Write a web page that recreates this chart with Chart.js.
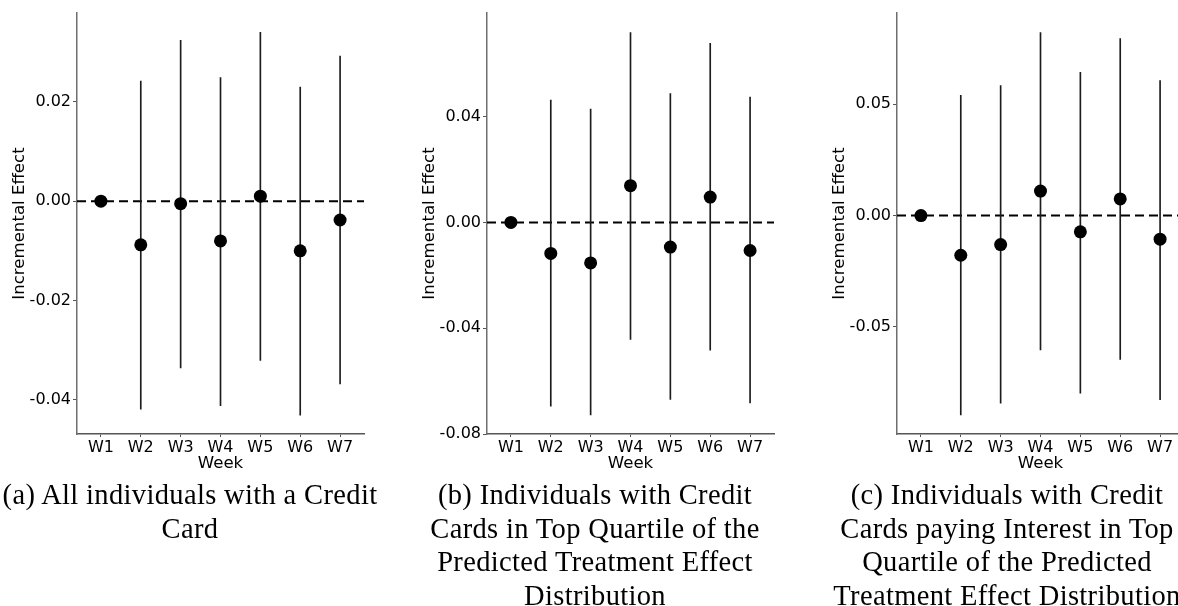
<!DOCTYPE html>
<html>
<head>
<meta charset="utf-8">
<script src="https://cdn.jsdelivr.net/npm/chart.js@4.4.1/dist/chart.umd.min.js"></script>
<style>
  html, body { margin: 0; padding: 0; background: #fff; width: 1178px; height: 606px; overflow: hidden; }
  .panel { position: absolute; top: 0; }
  .cap {
    position: absolute; top: 478px; width: 500px;
    font-family: "Liberation Serif", "DejaVu Serif", serif;
    font-size: 28.5px; line-height: 33.5px; letter-spacing: 0.35px; color: #000;
    text-align: center; white-space: nowrap;
  }
</style>
</head>
<body>
<canvas id="chartAll" class="panel" width="374" height="480" style="left:0px"></canvas>
<canvas id="chartTop" class="panel" width="374" height="480" style="left:410px"></canvas>
<canvas id="chartInterest" class="panel" width="374" height="480" style="left:820px"></canvas>

<div class="cap" style="left:-60px">(a) All individuals with a Credit<br>Card</div>
<div class="cap" style="left:345px">(b) Individuals with Credit<br>Cards in Top Quartile of the<br>Predicted Treatment Effect<br>Distribution</div>
<div class="cap" style="left:757px">(c) Individuals with Credit<br>Cards paying Interest in Top<br>Quartile of the Predicted<br>Treatment Effect Distribution</div>

<script>
// Weekly incremental effects with confidence intervals (W1 is the reference week)
const weeks = ['W1', 'W2', 'W3', 'W4', 'W5', 'W6', 'W7'];

// (a) All individuals with a credit card
const estAll  = [0, -0.0088, -0.0005, -0.0080, 0.0010, -0.0100, -0.0038];
const lowAll  = [null, -0.0419, -0.0336, -0.0412, -0.0321, -0.0431, -0.0368];
const highAll = [null, 0.0242, 0.0324, 0.0249, 0.0340, 0.0230, 0.0292];
const yTicksAll = [-0.04, -0.02, 0, 0.02];
const yRangeAll = [-0.0469, 0.0379];

// (b) Top quartile of the predicted treatment effect
const estTop  = [0, -0.0117, -0.0153, 0.0139, -0.0093, 0.0096, -0.0106];
const lowTop  = [null, -0.0695, -0.0728, -0.0442, -0.0669, -0.0483, -0.0682];
const highTop = [null, 0.0463, 0.0429, 0.0718, 0.0487, 0.0677, 0.0474];
const yTicksTop = [-0.08, -0.04, 0, 0.04];
const yRangeTop = [-0.08, 0.0792];

// (c) Paying interest, top quartile of the predicted treatment effect
const estInterest  = [0, -0.0178, -0.0130, 0.0110, -0.0073, 0.0075, -0.0106];
const lowInterest  = [null, -0.0895, -0.0843, -0.0603, -0.0798, -0.0646, -0.0827];
const highInterest = [null, 0.0540, 0.0584, 0.0822, 0.0643, 0.0795, 0.0606];
const yTicksInterest = [-0.05, 0, 0.05];
const yRangeInterest = [-0.0981, 0.091];

const xRange = [0.4, 7.6];

const tickFont = { family: 'DejaVu Sans', size: 16 };
const titleFont = { family: 'DejaVu Sans', size: 16.6 };

// dashed horizontal reference line at zero across the plot area
const zeroLine = {
  id: 'zeroLine',
  beforeDatasetsDraw(chart) {
    const { ctx, chartArea, scales } = chart;
    const y = scales.y.getPixelForValue(0);
    ctx.save();
    ctx.strokeStyle = '#000';
    ctx.lineWidth = 2;
    ctx.setLineDash([9, 5]);
    ctx.beginPath();
    ctx.moveTo(chartArea.left, y);
    ctx.lineTo(chartArea.right, y);
    ctx.stroke();
    ctx.restore();
  }
};

function makeChart(id, est, low, high, yTicks, yRange) {
  const points = weeks.map((w, i) => ({ x: i + 1, y: est[i] }));
  const intervals = weeks.map((w, i) => ({ x: i + 1, y: low[i] === null ? null : [low[i], high[i]] }));
  return new Chart(document.getElementById(id), {
    type: 'bar',
    data: {
      datasets: [
        {
          type: 'scatter',
          data: points,
          order: 0,
          pointRadius: 6.5,
          pointHoverRadius: 6.5,
          pointBackgroundColor: '#000',
          pointBorderWidth: 0
        },
        {
          type: 'bar',
          data: intervals,
          order: 1,
          barThickness: 1,
          backgroundColor: '#1c1c1c',
          borderWidth: 0,
          grouped: false
        }
      ]
    },
    options: {
      responsive: false,
      animation: false,
      events: [],
      layout: { autoPadding: false, padding: { top: 13, right: 10, left: 0, bottom: 0 } },
      plugins: { legend: { display: false }, tooltip: { enabled: false } },
      scales: {
        x: {
          type: 'linear',
          offset: false,
          min: xRange[0],
          max: xRange[1],
          afterBuildTicks: s => { s.ticks = weeks.map((w, i) => ({ value: i + 1 })); },
          afterFit: s => { s.height = 46; },
          ticks: {
            callback: v => weeks[Math.round(v) - 1],
            color: '#000', font: tickFont, padding: 1,
            maxRotation: 0, autoSkip: false
          },
          grid: { display: true, offset: false, drawOnChartArea: false, drawTicks: true, tickLength: 3, color: '#555', lineWidth: 1 },
          border: { display: true, color: '#555', width: 1.5 },
          title: { display: true, text: 'Week', color: '#000', font: titleFont, padding: { top: 0, bottom: 6 } }
        },
        y: {
          type: 'linear',
          min: yRange[0],
          max: yRange[1],
          afterBuildTicks: s => { s.ticks = yTicks.map(v => ({ value: v })); },
          afterFit: s => { s.width = 77; },
          ticks: {
            callback: v => v.toFixed(2),
            color: '#000', font: tickFont, padding: 2
          },
          grid: { display: true, drawOnChartArea: false, drawTicks: true, tickLength: 4, color: '#555', lineWidth: 1 },
          border: { display: true, color: '#6e6e6e', width: 1.5 },
          title: { display: true, text: 'Incremental Effect', color: '#000', font: titleFont, padding: { top: 10, bottom: 0 } }
        }
      }
    },
    plugins: [zeroLine]
  });
}

makeChart('chartAll', estAll, lowAll, highAll, yTicksAll, yRangeAll);
makeChart('chartTop', estTop, lowTop, highTop, yTicksTop, yRangeTop);
makeChart('chartInterest', estInterest, lowInterest, highInterest, yTicksInterest, yRangeInterest);
</script>
</body>
</html>
